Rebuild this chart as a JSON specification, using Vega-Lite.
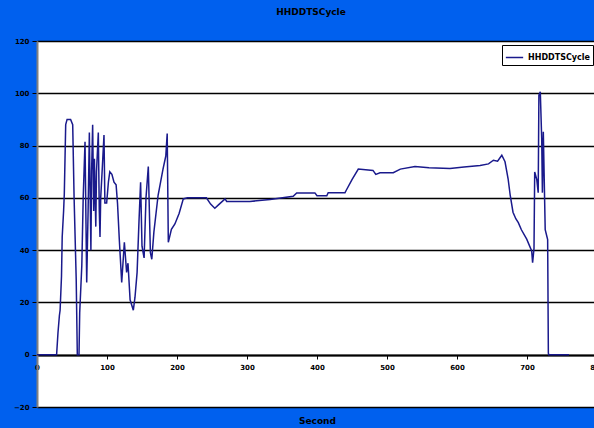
{
  "$schema": "https://vega.github.io/schema/vega-lite/v6.json",
  "autosize": "none",
  "padding": {"left": 37, "top": 41, "right": 0, "bottom": 21},
  "width": 560,
  "height": 366,
  "background": "#0060EE",
  "title": {"text": "HHDDTSCycle", "font": "DejaVu Sans", "fontSize": 9, "fontWeight": "bold", "color": "black", "anchor": "middle", "offset": 20, "dx": -6},
  "config": {
    "view": {"stroke": null, "fill": "white"},
    "axis": {"labelFont": "DejaVu Sans", "labelFontSize": 7, "labelFontWeight": "bold", "labelColor": "black", "titleFont": "DejaVu Sans", "titleFontSize": 9, "titleFontWeight": "bold", "titleColor": "black"}
  },
  "data": {"values": [
    {"t":0,"v":0},{"t":28,"v":0},{"t":30,"v":8.5},{"t":32,"v":15},{"t":33,"v":17},{"t":35,"v":30},{"t":36,"v":45},{"t":38,"v":55},{"t":39,"v":61.5},{"t":41,"v":88},{"t":43,"v":90},{"t":48,"v":90},{"t":51,"v":88},{"t":53,"v":60},{"t":56,"v":29},{"t":57.6,"v":0},{"t":60,"v":0},{"t":61,"v":16},{"t":64,"v":34},{"t":66,"v":60},{"t":68.6,"v":81.5},{"t":70,"v":50},{"t":71,"v":27.6},{"t":73,"v":55},{"t":74.8,"v":85},{"t":76,"v":60},{"t":77,"v":40},{"t":78,"v":70},{"t":79.5,"v":88},{"t":81,"v":55},{"t":82,"v":75},{"t":84,"v":49},{"t":85,"v":70},{"t":87.6,"v":85},{"t":89,"v":55},{"t":90,"v":45},{"t":91,"v":60},{"t":93,"v":70},{"t":95.7,"v":84},{"t":97,"v":58},{"t":99.5,"v":58},{"t":102,"v":66},{"t":104,"v":70},{"t":107,"v":69},{"t":110,"v":66},{"t":113,"v":65},{"t":115,"v":58},{"t":117.6,"v":44},{"t":121,"v":27.6},{"t":124.8,"v":43},{"t":128,"v":31.5},{"t":130,"v":35},{"t":133,"v":21},{"t":137.6,"v":17},{"t":140,"v":22},{"t":143,"v":31.5},{"t":145.7,"v":51},{"t":148,"v":66},{"t":150,"v":41.5},{"t":153,"v":37},{"t":155.7,"v":60},{"t":159,"v":72},{"t":162,"v":39},{"t":164,"v":36.5},{"t":167,"v":47},{"t":173,"v":61},{"t":180,"v":71},{"t":184,"v":76},{"t":186,"v":84.6},{"t":187.6,"v":43},{"t":192,"v":48},{"t":197,"v":50},{"t":203,"v":54},{"t":209,"v":59.6},{"t":215,"v":60},{"t":242,"v":60},{"t":248,"v":57.6},{"t":254,"v":56},{"t":260,"v":57.5},{"t":268.6,"v":59.6},{"t":271,"v":58.6},{"t":304,"v":58.6},{"t":333,"v":59.4},{"t":366,"v":60.6},{"t":371,"v":61.9},{"t":397,"v":61.9},{"t":400,"v":60.8},{"t":414,"v":60.8},{"t":416,"v":62},{"t":440,"v":62},{"t":442,"v":63},{"t":450,"v":67},{"t":459,"v":71},{"t":480,"v":70.5},{"t":484,"v":69},{"t":490,"v":69.6},{"t":509,"v":69.6},{"t":519,"v":71},{"t":540,"v":72},{"t":560,"v":71.5},{"t":590,"v":71.2},{"t":610,"v":71.8},{"t":633,"v":72.4},{"t":645,"v":73},{"t":652,"v":74.4},{"t":658,"v":74},{"t":664,"v":76.3},{"t":668.6,"v":73.8},{"t":673,"v":67.3},{"t":676,"v":61},{"t":680,"v":54.5},{"t":684,"v":52},{"t":687.6,"v":50.5},{"t":692,"v":47.8},{"t":699.6,"v":44.2},{"t":706.7,"v":39.7},{"t":708,"v":35.2},{"t":710,"v":40.6},{"t":711,"v":69.9},{"t":714,"v":67},{"t":716,"v":62},{"t":717,"v":99.3},{"t":719,"v":100.6},{"t":721,"v":82.7},{"t":722,"v":62},{"t":723.3,"v":85.3},{"t":726,"v":47.8},{"t":729.5,"v":44},{"t":730.5,"v":0.7},{"t":731,"v":0},{"t":760,"v":0}
  ]},
  "transform": [{"calculate": "'HHDDTSCycle'", "as": "series"}],
  "mark": {"type": "line", "strokeWidth": 1.5, "interpolate": "linear"},
  "encoding": {
    "x": {"field": "t", "type": "quantitative", "title": "Second",
      "scale": {"domain": [0, 800], "nice": false, "zero": false},
      "axis": {"values": [0,100,200,300,400,500,600,700,800], "grid": false, "offset": -52, "domainColor": "black", "domainWidth": 2, "tickColor": "black", "tickSize": 4, "labelPadding": 4, "titleY": 65, "titleBaseline": "middle", "labelFlush": false}},
    "y": {"field": "v", "type": "quantitative", "title": null,
      "scale": {"domain": [-20, 120], "nice": false},
      "axis": {"values": [-20,0,20,40,60,80,100,120], "grid": true, "gridColor": "black", "gridWidth": 1.5, "gridOpacity": 1, "domainColor": "#808080", "domainWidth": 2, "tickColor": "black", "tickSize": 5, "labelPadding": 3}},
    "color": {"field": "series", "type": "nominal", "title": null,
      "scale": {"range": ["#1A1A8C"]},
      "legend": {"orient": "none", "legendX": 465, "legendY": 4, "direction": "vertical", "symbolType": "stroke", "symbolSize": 300, "symbolStrokeWidth": 1.5, "labelFont": "DejaVu Sans", "labelFontSize": 8, "labelFontWeight": "bold", "labelColor": "black", "fillColor": "white", "strokeColor": "black", "padding": 3, "cornerRadius": 0}}
  }
}
